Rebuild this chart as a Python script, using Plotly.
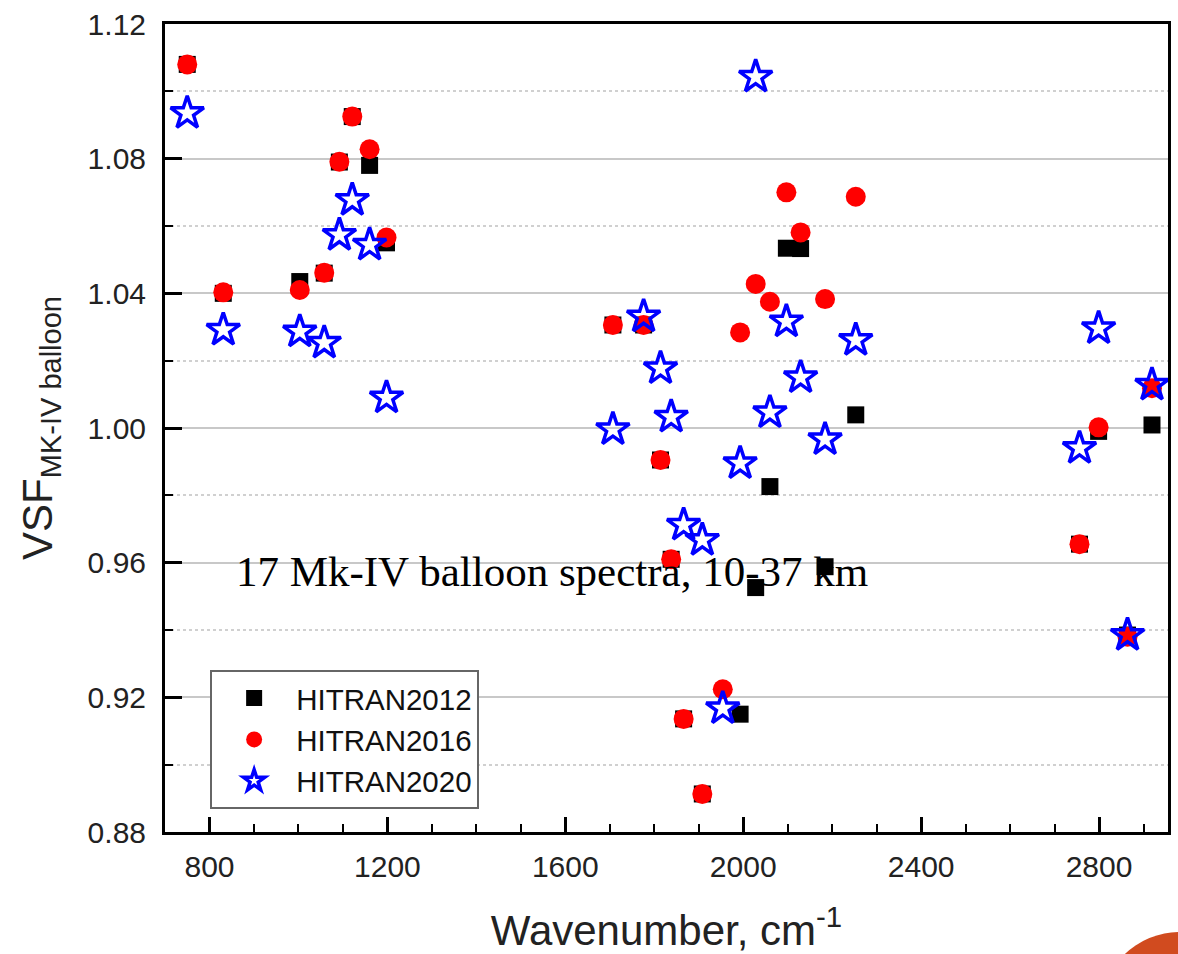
import plotly.graph_objects as go

wavenumber = [750, 831, 1003, 1058, 1092, 1121, 1160, 1198, 1707, 1776, 1814, 1838, 1866,
              1908, 1954, 1993, 2028, 2060, 2097, 2129, 2184, 2253, 2756, 2799, 2864, 2919]

hitran2012 = [1.108, 1.040, 1.0435, 1.046, 1.079, 1.0925, 1.078, 1.055, 1.0306, 1.0306, 0.9905,
              0.961, 0.9136, 0.8913, None, 0.915, 0.9526, 0.9826, 1.0534, 1.0533, 0.9588, 1.0039,
              0.9655, 0.999, 0.9385, 1.0009]

hitran2016 = [1.108, 1.0403, 1.041, 1.0461, 1.0791, 1.0925, 1.0828, 1.0566, 1.0306, 1.0306, 0.9905,
              0.961, 0.9136, 0.8913, 0.9224, 1.0284, 1.0428, 1.0375, 1.07, 1.0581, 1.0383, 1.0687,
              0.9655, 1.0002, 0.938, 1.0118]

hitran2020 = [1.0935, 1.0291, 1.0286, 1.0253, 1.0573, 1.0677, 1.0544, 1.009, 0.9996, 1.0331, 1.0177,
              1.0033, 0.9712, 0.9667, 0.9167, 0.9895, 1.1043, 1.0046, 1.0316, 1.015, 0.9966, 1.0261,
              0.994, 1.0296, 0.9385, 1.0128]

series_names = ["HITRAN2012", "HITRAN2016", "HITRAN2020"]
y_ticks = [0.88, 0.92, 0.96, 1.00, 1.04, 1.08, 1.12]
x_ticks = [800, 1200, 1600, 2000, 2400, 2800]
annotation_text = "17 Mk-IV balloon spectra, 10-37 km"

fig = go.Figure()
fig.add_trace(go.Scatter(x=wavenumber, y=hitran2012, mode="markers", name=series_names[0],
                         marker=dict(symbol="square", size=17, color="black")))
fig.add_trace(go.Scatter(x=wavenumber, y=hitran2016, mode="markers", name=series_names[1],
                         marker=dict(symbol="circle", size=20, color="#ff0000")))
fig.add_trace(go.Scatter(x=wavenumber, y=hitran2020, mode="markers", name=series_names[2],
                         marker=dict(symbol="star-open", size=25, color="#0000ff",
                                     line=dict(width=3.5, color="#0000ff"))))

font_sans = "Arial, Liberation Sans, sans-serif"

fig.update_layout(
    width=1178, height=954,
    margin=dict(l=165, r=10, t=24, b=122),
    paper_bgcolor="white", plot_bgcolor="white",
    font=dict(family=font_sans, color="#222222", size=30),
    showlegend=True,
    legend=dict(x=0.045, y=0.2, xanchor="left", yanchor="top",
                bgcolor="white", bordercolor="#666666", borderwidth=2,
                font=dict(size=29.5, color="#111111"), itemwidth=74,
                tracegroupgap=0),
)

fig.update_xaxes(
    range=[700, 2955], tickvals=x_ticks, ticktext=[str(v) for v in x_ticks],
    showgrid=False, zeroline=False, automargin=False,
    showline=True, linecolor="black", linewidth=3, mirror=True,
    ticks="inside", ticklen=15, tickwidth=3, tickcolor="black",
    ticklabelstandoff=6,
    minor=dict(dtick=100, tick0=0, ticks="inside", ticklen=8, tickwidth=2, tickcolor="black", showgrid=False),
    tickfont=dict(size=30, color="#222222"),
    title=dict(text="Wavenumber, cm<sup>-1</sup>", font=dict(size=42, color="#222222"), standoff=34),
)

fig.update_yaxes(
    range=[0.88, 1.12], tickvals=y_ticks, ticktext=["%.2f" % v for v in y_ticks],
    showgrid=True, gridcolor="#c8c8c8", gridwidth=2, zeroline=False, automargin=False,
    showline=True, linecolor="black", linewidth=3, mirror=True,
    ticks="inside", ticklen=17, tickwidth=3, tickcolor="black",
    ticklabelstandoff=10,
    minor=dict(dtick=0.02, tick0=0.88, ticks="inside", ticklen=8, tickwidth=2, tickcolor="black",
               showgrid=True, gridcolor="#d0d0d0", griddash="dot", gridwidth=2),
    tickfont=dict(size=30, color="#222222"),
    title=dict(text="VSF<sub><span style='font-size:29px'>MK-IV balloon</span></sub>",
               font=dict(size=42, color="#222222"), standoff=22),
)

fig.add_annotation(
    text=annotation_text, xref="paper", yref="paper", x=0.0688, y=0.323,
    xanchor="left", yanchor="middle", showarrow=False,
    font=dict(family="Liberation Serif, Times New Roman, serif", size=43, color="black"),
)

fig.add_shape(type="circle", xref="paper", yref="paper",
              x0=(1100 - 165) / 1003, x1=(1260 - 165) / 1003,
              y0=(832 - 1092) / 808, y1=(832 - 932) / 808,
              fillcolor="#d14b1f", line=dict(width=0), layer="above")

fig.write_html("out.html")
